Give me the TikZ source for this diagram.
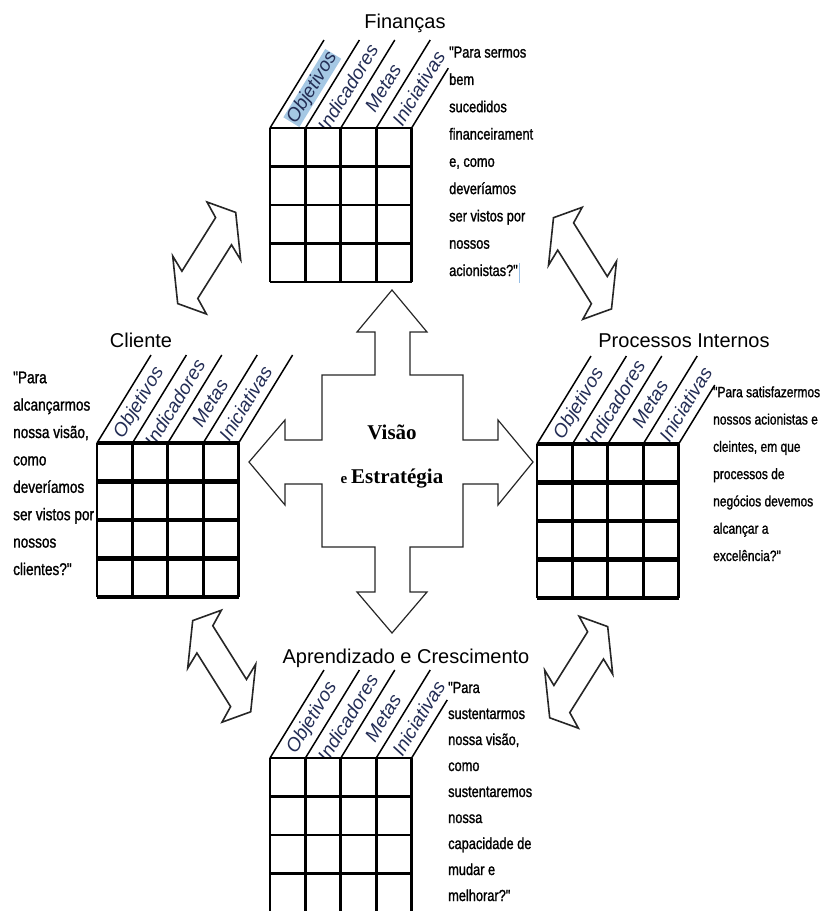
\documentclass[tikz,border=0pt]{standalone}
\usepackage{fontspec}
\setmainfont{Liberation Sans}
\newfontfamily\narrowfont[FakeStretch=0.8,FakeBold=1.2]{Liberation Sans}
\newfontfamily\visfont{Liberation Serif}
\definecolor{labelblue}{RGB}{35,45,85}
\definecolor{hlblue}{RGB}{165,200,228}
\definecolor{cursorblue}{RGB}{150,190,230}

\begin{document}
\begin{tikzpicture}[x=1pt,y=-1pt]
	\tikzset{title/.style={font=\fontsize{20}{24}\selectfont,inner sep=0pt,anchor=base}}
	\tikzset{quote/.style={align=left,inner sep=0pt,anchor=base west}}
	\tikzset{collabel/.style={font=\itshape\fontsize{19}{22}\selectfont,text=labelblue,rotate=58.5,inner sep=0.5pt}}
	\tikzset{slant/.style={line width=1.5pt}}
	\tikzset{gridline/.style={line width=2.8pt,line cap=square}}
	\tikzset{blockarrow/.style={draw=black!85,line width=1.2pt,line join=miter,fill=white}}
	% one perspective: slanted heads + 4x4 table
	\tikzset{pics/bscgrid/.style n args={3}{code={
		\foreach \i in {0,...,3}
			\draw[slant] (\i*35.4,0) -- ++(54,-88);
		\draw[slant] (141.6,0) -- ++(#2*54,-#2*88);
		\begin{scope}
			\clip (-5,-1.5) rectangle (230,-140);
			\node[collabel,#3] (-c0) at (42.3,-40) {Objetivos};
			\node[collabel] (-c1) at (77.7,-40) {Indicadores};
			\node[collabel] (-c2) at (113.1,-40) {Metas};
			\node[collabel] (-c3) at (148.5,-40) {Iniciativas};
		\end{scope}
		\foreach \i in {0,...,4} {
			\draw[gridline] (\i*35.4,0) -- (\i*35.4,154);
			\draw[gridline,line width=#1] (0,\i*38.5) -- (141.6,\i*38.5);
		}
	}}}
	\tikzset{pics/dblarrow/.style={code={
		\draw[blockarrow,line width=1.6pt] (0.3,-56) -- (29,-45.6) -- (34,2) -- (24.8,-13.2) -- (-8.9,40.4)
			-- (-0.3,56) -- (-29,45.6) -- (-34,-2) -- (-24.8,13.2) -- (8.9,-40.4) -- cycle;
	}}}
	\useasboundingbox (0,0) rectangle (827,911);
	% Central cross
	\draw[blockarrow] (375,375) -- (375,332) -- (357,332) -- (392,290) -- (427,332) -- (410,332) -- (410,375)
		-- (463,375) -- (463,440) -- (498,440) -- (498,420) -- (533,462) -- (498,505) -- (498,484) -- (463,484)
		-- (463,547) -- (410,547) -- (410,592) -- (427,592) -- (392,633) -- (357,592) -- (375,592) -- (375,547)
		-- (322,547) -- (322,484) -- (285,484) -- (285,505) -- (249,462) -- (285,420) -- (285,440) -- (322,440)
		-- (322,375) -- cycle;
	\node[font=\visfont\bfseries\fontsize{21}{26}\selectfont,anchor=base,inner sep=0pt] (visao) at (392,439) {Visão};
	\node[font=\visfont\bfseries\fontsize{21}{26}\selectfont,anchor=base,inner sep=0pt] (estrategia) at (392,483)
		{{\fontsize{15}{18}\selectfont e }Estratégia};
	% Place perspectives
	\pic (gfin) at (270,128) {bscgrid={2.8pt}{0.68}{fill=hlblue}};
	\pic (gcli) at (97,443) {bscgrid={4.5pt}{1}{}};
	\pic (gproc) at (537,444) {bscgrid={4.5pt}{0.67}{}};
	\pic (gapr) at (270,758) {bscgrid={2.8pt}{0.66}{}};
	% Titles
	\node[title] (financas) at (405,28) {Finanças};
	\node[title] (cliente) at (141,347) {Cliente};
	\node[title] (processos) at (684,347) {Processos Internos};
	\node[title] (aprendizado) at (406,663) {Aprendizado e Crescimento};
	% Questions (placed by their last baseline)
	\node[quote,font=\narrowfont\fontsize{16}{27.3}\selectfont] (qfin) at (449,276)
		{"Para sermos\\bem\\sucedidos\\financeirament\\e, como\\deveríamos\\ser vistos por\\nossos\\acionistas?"};
	\draw[cursorblue,line width=1pt] (519,263) -- (519,283);
	\node[quote,font=\narrowfont\fontsize{17}{27.4}\selectfont] (qcli) at (13,575)
		{"Para\\alcançarmos\\nossa visão,\\como\\deveríamos\\ser vistos por\\nossos\\clientes?"};
	\node[quote,font=\narrowfont\fontsize{15}{27.3}\selectfont] (qproc) at (713,561)
		{"Para satisfazermos\\nossos acionistas e\\cleintes, em que\\processos de\\negócios devemos\\alcançar a\\excelência?"};
	\node[quote,font=\narrowfont\fontsize{16}{26}\selectfont] (qapr) at (448,901)
		{"Para\\sustentarmos\\nossa visão,\\como\\sustentaremos\\nossa\\capacidade de\\mudar e\\melhorar?"};
	% Links between perspectives
	\pic (afincli) at (206.7,258) {dblarrow};
	\pic[xscale=-1] (afinproc) at (582.5,263.3) {dblarrow};
	\pic[xscale=-1] (acliapr) at (221.7,666.2) {dblarrow};
	\pic (aprocapr) at (578.7,672.2) {dblarrow};
\end{tikzpicture}
\end{document}
